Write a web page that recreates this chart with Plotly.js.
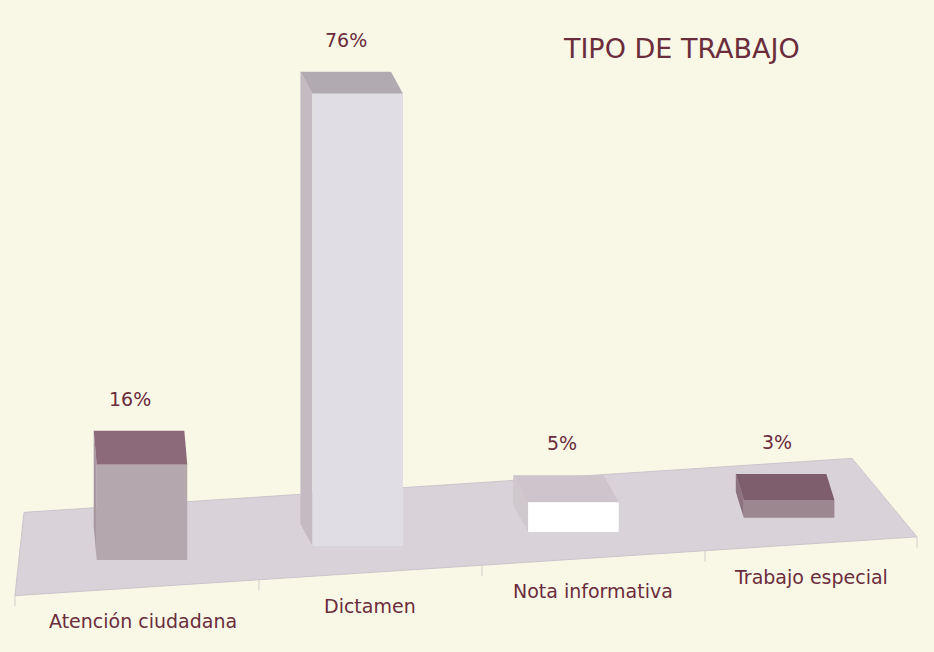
<!DOCTYPE html>
<html>
<head>
<meta charset="utf-8">
<script src="https://cdn.plot.ly/plotly-3.0.1.min.js"></script>
<style>html,body{margin:0;padding:0;background:#f9f8e7;}#chart{width:934px;height:652px;}</style>
</head>
<body>
<div id="chart"></div>
<script>
// ---- data ----
const categories = ['Atención ciudadana', 'Dictamen', 'Nota informativa', 'Trabajo especial'];
const values = [16, 76, 5, 3];
const valueLabels = ['16%', '76%', '5%', '3%'];
const chartTitle = 'TIPO DE TRABAJO';

// ---- styles ----
const frontColors = ['#b5a7ae', '#e1dde5', '#ffffff', '#9c8790'];
const lidColors   = ['#8d6a79', '#b2aab1', '#cdc5cb', '#7e5e6c'];
const sideColors  = ['#a8989f', '#c3bac2', '#cfc8cd', '#8c727d'];
const lidDepthPx  = [34, 22, 27, 26];   // apparent depth of each bar's top face
const lidShiftPx  = [-3, -12, -15, -8]; // apparent sideways shift of the top face
const textColor = '#6b2c3b';
const bg = '#f9f8e7';

// ---- fake 3D geometry (perspective of the floor) ----
const PXX = 215.7, PXY = 5.95;        // pixels per x unit / per y unit
const X0 = 142, Y0 = 560;             // pixel position of category 0 / value 0
const tilt = 2.362;                    // floor rise per category (y units)
const barW = 0.42;
const base = x => tilt * x;
const FRONT = -4.6, BACK = 9.3;        // floor edges relative to bar base line
const LABEL_GAP_PX = 32;

const shapes = [];
// floor
const fl = [[-0.589, base(-0.589) + FRONT], [3.593, base(3.593) + FRONT],
            [3.292, base(3.292) + BACK], [-0.547, base(-0.547) + BACK]];
shapes.push({type: 'path', xref: 'x', yref: 'y', layer: 'below',
  path: 'M' + fl.map(p => p[0] + ',' + p[1]).join(' L') + ' Z',
  fillcolor: '#d9d3d9', line: {color: '#cbc4cb', width: 1}});
// category divisions along the front edge
const bounds = [-0.589, 0.542, 1.576, 2.610, 3.593];
bounds.forEach(x => {
  const y0 = base(x) + FRONT;
  shapes.push({type: 'line', xref: 'x', yref: 'y', layer: 'below', x0: x, x1: x, y0: y0, y1: y0 - 1.8,
    line: {color: '#d2cccc', width: 1}});
});
// top faces and left sides of the bars
values.forEach((v, i) => {
  const b = base(i), top = b + v, dy = lidDepthPx[i] / PXY, dx = lidShiftPx[i] / PXX;
  const xl = i - barW / 2, xr = i + barW / 2;
  shapes.push({type: 'path', xref: 'x', yref: 'y', layer: 'below',
    path: `M${xl},${b} L${xl},${top} L${xl + dx},${top + dy} L${xl + dx},${b + dy} Z`,
    fillcolor: sideColors[i], line: {width: 0}});
  shapes.push({type: 'path', xref: 'x', yref: 'y', layer: 'below',
    path: `M${xl},${top} L${xr},${top} L${xr + dx},${top + dy} L${xl + dx},${top + dy} Z`,
    fillcolor: lidColors[i], line: {width: 0}});
});

const annotations = [];
values.forEach((v, i) => {
  annotations.push({x: i - 0.055, y: base(i) + v + (lidDepthPx[i] + LABEL_GAP_PX) / PXY, xref: 'x', yref: 'y',
    text: valueLabels[i], showarrow: false,
    font: {family: 'DejaVu Sans', size: 19, color: textColor}});
});
categories.forEach((c, i) => {
  const xm = (bounds[i] + bounds[i + 1]) / 2 + (i === 0 ? 0.03 : 0);
  annotations.push({x: xm, y: base(xm) - 10.2, xref: 'x', yref: 'y',
    text: c, showarrow: false,
    font: {family: 'DejaVu Sans', size: 19, color: textColor}});
});

const trace = {
  type: 'bar',
  x: categories.map((c, i) => i),
  y: values,
  base: values.map((v, i) => base(i)),
  width: barW,
  marker: {color: frontColors, line: {width: 0}},
  hoverinfo: 'skip'
};

const layout = {
  width: 934, height: 652,
  margin: {l: 0, r: 0, t: 0, b: 0},
  paper_bgcolor: bg, plot_bgcolor: bg,
  showlegend: false,
  title: {text: chartTitle, x: 0.73, y: 0.925, xanchor: 'center', yanchor: 'middle',
    font: {family: 'DejaVu Sans', size: 27, color: textColor}},
  xaxis: {range: [-X0 / PXX, (934 - X0) / PXX], visible: false, fixedrange: true},
  yaxis: {range: [(Y0 - 652) / PXY, Y0 / PXY], visible: false, fixedrange: true},
  shapes: shapes,
  annotations: annotations
};

Plotly.newPlot('chart', [trace], layout, {staticPlot: true});
</script>
</body>
</html>
